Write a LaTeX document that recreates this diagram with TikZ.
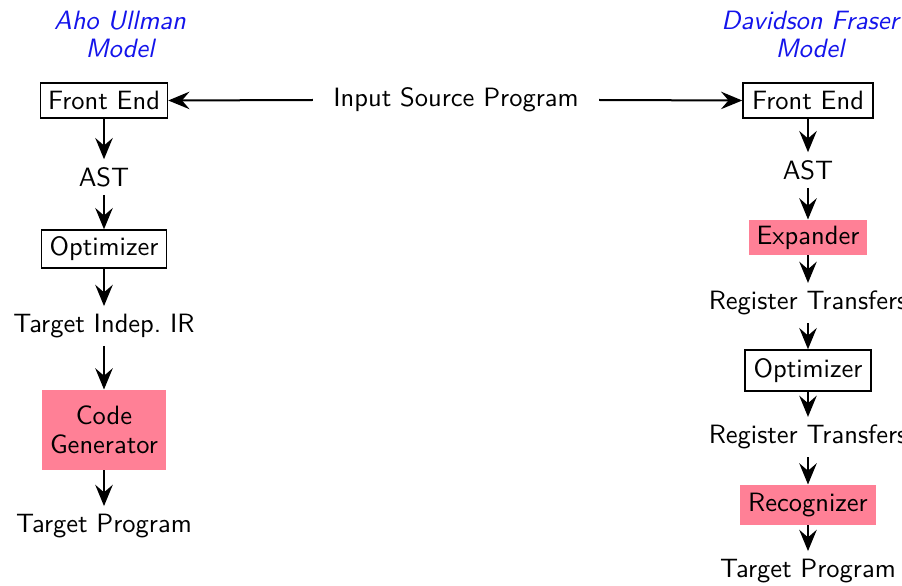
\documentclass[tikz,border=0pt]{standalone}
\usetikzlibrary{arrows.meta}
\definecolor{boxpink}{RGB}{255,128,150}
\definecolor{titleblue}{RGB}{20,20,235}
\begin{document}
\begin{tikzpicture}[x=0.4pt,y=-0.4pt,
  font=\sffamily\fontsize{10.6}{12.7}\selectfont,
  every node/.style={align=center},
  plainbox/.style={draw,line width=0.6pt,inner sep=1.5pt},
  pinkbox/.style={fill=boxpink,inner sep=1.5pt},
  txt/.style={inner sep=3pt},
  ttl/.style={text=titleblue,font=\sffamily\slshape\fontsize{10.6}{11.2}\selectfont},
  arr/.style={line width=0.8pt,-{Stealth[length=8.5pt,width=7pt,inset=3pt]}}]
\useasboundingbox (0,0) rectangle (902,586);
% titles
\node[ttl] (t1) at (120,34) {Aho Ullman\\Model};
\node[ttl] (t2) at (810,34) {Davidson Fraser\\Model};
% left column
\node[plainbox,minimum width=50.8pt,minimum height=14pt] (lfe) at (104,100.5) {Front End};
\node[txt] (last) at (104,177) {AST};
\node[plainbox,minimum width=50pt,minimum height=15.2pt] (lopt) at (104,249) {Optimizer};
\node[txt] (lir) at (104,326) {Target Indep.\ IR};
\node[pinkbox,minimum width=49.6pt,minimum height=32pt] (lcg) at (104,430) {Code\\[-1pt]Generator};
\node[txt] (ltp) at (104,526) {Target Program};
% input
\node[txt] (isp) at (456,100) {Input Source Program};
% right column
\node[plainbox,minimum width=52pt,minimum height=14pt] (rfe) at (808,100.5) {Front End};
\node[txt] (rast) at (808,170) {AST};
\node[pinkbox,minimum width=47.2pt,minimum height=14pt] (rexp) at (808,237.5) {Expander};
\node[txt] (rrt1) at (808,303) {Register Transfers};
\node[plainbox,minimum width=50.4pt,minimum height=16.4pt] (ropt) at (808,370.5) {Optimizer};
\node[txt] (rrt2) at (808,437) {Register Transfers};
\node[pinkbox,minimum width=54.4pt,minimum height=16pt] (rrec) at (808,505) {Recognizer};
\node[txt] (rtp) at (808,571) {Target Program};
% arrows
\draw[arr] (isp.west) ++(-5pt,0) coordinate (ispw) -- (lfe.east);
\draw[arr] (isp.east) ++(5pt,0) coordinate (ispe) -- (rfe.west);
\draw[arr] (lfe) -- (last);
\draw[arr] (last) -- (lopt);
\draw[arr] (lopt) -- (lir);
\draw[arr] (lir) -- (lcg);
\draw[arr] (lcg) -- (ltp);
\draw[arr] (rfe) -- (rast);
\draw[arr] (rast) -- (rexp);
\draw[arr] (rexp) -- (rrt1);
\draw[arr] (rrt1) -- (ropt);
\draw[arr] (ropt) -- (rrt2);
\draw[arr] (rrt2) -- (rrec);
\draw[arr] (rrec) -- (rtp);
\end{tikzpicture}
\end{document}
